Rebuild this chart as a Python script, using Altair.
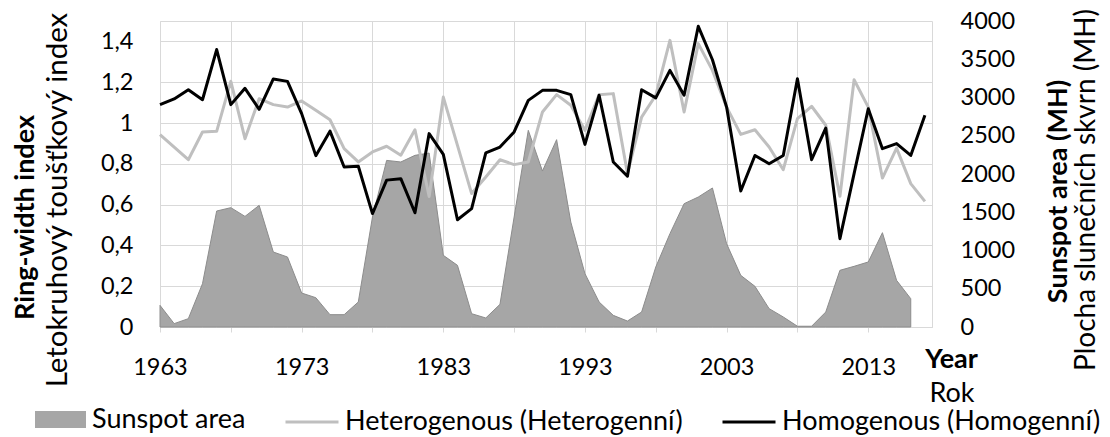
import altair as alt
import pandas as pd

years = list(range(1963, 2018))

# Sunspot area (MH), 1963-2016 (no value for 2017)
sunspot_area = [283, 44, 109, 566, 1516, 1560, 1446, 1590, 980, 915,
                444, 383, 161, 161, 327, 1438, 2178, 2157, 2244, 2274,
                937, 806, 174, 118, 296, 1438, 2571, 2039, 2449, 1372,
                697, 327, 152, 78, 196, 784, 1220, 1612, 1699, 1817,
                1089, 675, 532, 240, 131, 10, 10, 196, 741, 793,
                850, 1233, 610, 370, None]

heterogenous = [0.943, 0.882, 0.82, 0.956, 0.959, 1.204, 0.923, 1.119, 1.09, 1.078,
                1.108, 1.062, 1.016, 0.874, 0.809, 0.858, 0.886, 0.842, 0.967, 0.64,
                1.127, 0.89, 0.654, 0.735, 0.82, 0.796, 0.809, 1.054, 1.139, 1.087,
                0.964, 1.139, 1.144, 0.752, 1.029, 1.136, 1.405, 1.054, 1.389, 1.258,
                1.078, 0.944, 0.967, 0.882, 0.771, 1.021, 1.082, 0.989, 0.641, 1.212,
                1.078, 0.730, 0.877, 0.703, 0.616]

homogenous = [1.09, 1.118, 1.163, 1.114, 1.36, 1.09, 1.17, 1.067, 1.216, 1.204,
              1.046, 0.84, 0.96, 0.784, 0.788, 0.556, 0.72, 0.727, 0.56, 0.948,
              0.846, 0.526, 0.58, 0.853, 0.882, 0.956, 1.111, 1.16, 1.16, 1.139,
              0.895, 1.136, 0.809, 0.739, 1.163, 1.123, 1.258, 1.136, 1.474, 1.31,
              1.078, 0.667, 0.841, 0.80, 0.841, 1.217, 0.82, 0.975, 0.433, 0.752,
              1.07, 0.874, 0.899, 0.841, 1.038]

x_ticks = list(range(1963, 2018, 5))
left_ticks = [0, 0.2, 0.4, 0.6, 0.8, 1.0, 1.2, 1.4]
right_ticks = list(range(0, 4001, 500))

SUN = "Sunspot area"
HET = "Heterogenous (Heterogenní)"
HOM = "Homogenous (Homogenní)"

area_df = pd.DataFrame({"year": years, "area": sunspot_area, "series": [SUN] * len(years)})
lines_df = pd.DataFrame({
    "year": years + years,
    "index": heterogenous + homogenous,
    "series": [HET] * len(years) + [HOM] * len(years),
})

FONT = "Lato"
TICK_FS = 23.5
TITLE_FS = 27
LEGEND_FS = 27
GRID = "#d9d9d9"
LEG_Y = 373

x_enc = alt.X(
    "year:Q",
    scale=alt.Scale(domain=[1963, 2017.5], nice=False, zero=False),
    axis=alt.Axis(
        values=x_ticks,
        labelExpr="(datum.value - 1963) % 10 == 0 ? '' + datum.value : ''",
        labelFlush=False, labelOverlap=False,
        grid=True, gridColor=GRID, domainColor=GRID, tickColor=GRID,
        tickSize=5, labelPadding=23, labelFont=FONT, labelFontSize=TICK_FS,
        labelColor="black",
        title="Year", titleFont=FONT, titleFontSize=TITLE_FS, titleFontWeight="bold",
        titleColor="black", titleX=791, titleY=32, titleAlign="center",
        titleBaseline="middle",
    ),
)

area = alt.Chart(area_df).mark_area(stroke="#8c8c8c", strokeWidth=1, opacity=1).encode(
    x=x_enc,
    y=alt.Y(
        "area:Q",
        scale=alt.Scale(domain=[0, 4000], nice=False),
        axis=alt.Axis(
            orient="right", values=right_ticks, format="d", grid=False, ticks=False,
            domain=False, labelPadding=28, labelFont=FONT, labelFontSize=TICK_FS,
            labelColor="black",
            title="Sunspot area (MH)", titleFont=FONT, titleFontSize=TITLE_FS,
            titleFontWeight="bold", titleColor="black", titleAngle=270,
            titleX=126, titleY=170, titleAlign="center", titleBaseline="middle",
        ),
    ),
    fill=alt.Fill(
        "series:N",
        scale=alt.Scale(domain=[SUN], range=["#a6a6a6"]),
        legend=alt.Legend(
            title=None, orient="none", legendX=-125, legendY=LEG_Y, padding=0,
            symbolType="M-1,-0.333L1,-0.333L1,0.333L-1,0.333Z", symbolSize=2601,
            symbolStrokeWidth=0, labelFont=FONT, labelFontSize=LEGEND_FS,
            labelColor="black", labelOffset=6, labelLimit=600,
        ),
    ),
)

lines = alt.Chart(lines_df).mark_line(strokeWidth=3, strokeJoin="round").encode(
    x=x_enc,
    y=alt.Y(
        "index:Q",
        scale=alt.Scale(domain=[0, 1.5], nice=False),
        axis=alt.Axis(
            orient="left", values=left_ticks,
            labelExpr="replace(format(datum.value, '.1~f'), '.', ',')",
            grid=True, gridColor=GRID, ticks=False, domain=False,
            labelPadding=27, labelFont=FONT, labelFontSize=TICK_FS, labelColor="black",
            title="Ring-width index", titleFont=FONT, titleFontSize=TITLE_FS,
            titleFontWeight="bold", titleColor="black", titleAngle=270,
            titleX=-135, titleY=196, titleAlign="center", titleBaseline="middle",
        ),
    ),
    stroke=alt.Stroke(
        "series:N",
        scale=alt.Scale(domain=[HET, HOM], range=["#bfbfbf", "#000000"]),
        legend=alt.Legend(
            title=None, orient="none", direction="horizontal", legendX=124, legendY=LEG_Y,
            padding=0, symbolType="stroke", symbolSize=2809, symbolStrokeWidth=3,
            labelFont=FONT, labelFontSize=LEGEND_FS, labelColor="black",
            labelOffset=5, columnPadding=33, labelLimit=600,
        ),
    ),
)


def note(text, x, y, size, angle=None):
    kw = dict(font=FONT, fontSize=size, align="center", baseline="middle", color="black")
    if angle is not None:
        kw["angle"] = angle
    return alt.Chart(pd.DataFrame({"t": [text]})).mark_text(**kw).encode(
        x=alt.value(x), y=alt.value(y), text="t:N"
    )


notes = [
    note("Letokruhový toušťkový index", -102, 179, 29.5, 270),
    note("Plocha slunečních skvrn (MH)", 927, 169, 28, 270),
    note("Rok", 792, 373, TITLE_FS),
]

chart = alt.layer(area, lines, *notes).resolve_scale(y="independent").properties(
    width=772,
    height=306,
    autosize=alt.AutoSizeParams(type="none"),
    padding={"left": 152, "top": 13, "right": 170, "bottom": 110},
    background="white",
).configure_view(stroke=GRID, strokeWidth=1)

chart.save("out.html", embed_options={"renderer": "svg", "actions": False})
